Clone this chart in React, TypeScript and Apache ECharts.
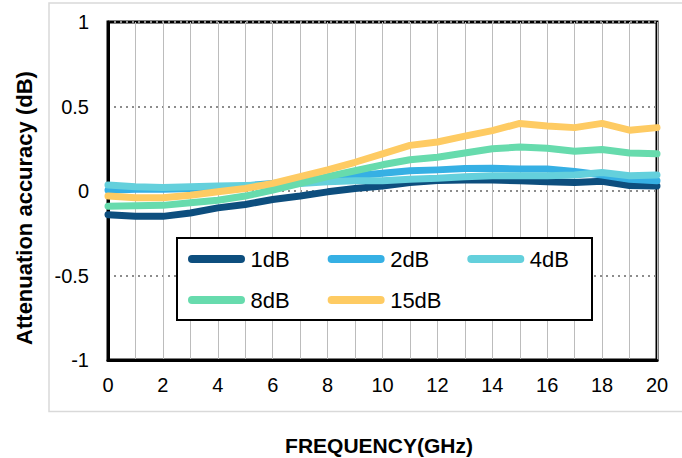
import React, { useEffect, useRef } from "react";
import * as echarts from "echarts";

const freqs = [0, 1, 2, 3, 4, 5, 6, 7, 8, 9, 10, 11, 12, 13, 14, 15, 16, 17, 18, 19, 20];
const seriesNames = ["1dB", "2dB", "4dB", "8dB", "15dB"];
const s1dB = [-0.14, -0.15, -0.15, -0.13, -0.1, -0.08, -0.05, -0.03, -0.005, 0.015, 0.03, 0.05, 0.062, 0.065, 0.065, 0.06, 0.055, 0.05, 0.058, 0.032, 0.03];
const s2dB = [0.005, 0.01, 0.01, 0.015, 0.02, 0.03, 0.045, 0.06, 0.075, 0.09, 0.105, 0.12, 0.125, 0.133, 0.135, 0.13, 0.13, 0.115, 0.095, 0.07, 0.06];
const s4dB = [0.035, 0.025, 0.02, 0.025, 0.03, 0.033, 0.036, 0.045, 0.055, 0.06, 0.06, 0.07, 0.075, 0.085, 0.09, 0.09, 0.09, 0.095, 0.11, 0.09, 0.095];
const s8dB = [-0.09, -0.088, -0.085, -0.07, -0.055, -0.03, 0.005, 0.045, 0.085, 0.12, 0.155, 0.185, 0.2, 0.225, 0.25, 0.26, 0.253, 0.235, 0.245, 0.225, 0.22];
const s15dB = [-0.03, -0.04, -0.04, -0.025, -0.005, 0.015, 0.045, 0.085, 0.125, 0.17, 0.22, 0.27, 0.29, 0.325, 0.357, 0.4, 0.385, 0.375, 0.4, 0.36, 0.375];
const seriesValues = [s1dB, s2dB, s4dB, s8dB, s15dB];
const colors = ["#0d4e7e", "#36b0e4", "#64d0dc", "#67dbad", "#fecb63"];
const yTicks = [-1, -0.5, 0, 0.5, 1];
const xTitle = "FREQUENCY(GHz)";
const yTitle = "Attenuation accuracy (dB)";

const FONT = "'Liberation Sans', Arial, sans-serif";
const capsule = "path://M4,0 H53 A4,4 0 0 1 53,8 H4 A4,4 0 0 1 4,0 Z";

export default function App() {
  const ref = useRef<HTMLDivElement>(null);
  useEffect(() => {
    document.body.style.margin = "0";
    document.body.style.overflow = "hidden";
    document.documentElement.style.overflow = "hidden";
    const chart = echarts.init(ref.current!, null, { renderer: "svg" });
    const legendBase = {
      orient: "horizontal",
      icon: capsule,
      itemWidth: 58,
      itemHeight: 8,
      itemGap: 38,
      padding: 0,
      textStyle: { fontFamily: FONT, fontSize: 22, fontWeight: "normal", color: "#000" },
      z: 6,
    };
    chart.setOption({
      animation: false,
      backgroundColor: "#fff",
      color: colors,
      textStyle: { fontFamily: FONT },
      grid: {
        left: 108,
        right: 25,
        top: 22,
        bottom: 98,
        containLabel: false,
        outerBoundsMode: "none",
        show: true,
        borderColor: "#000",
        borderWidth: 3,
        backgroundColor: "transparent",
      },
      graphic: [
        {
          type: "rect",
          shape: { x: 49, y: 3, width: 660, height: 408.5 },
          style: { fill: "none", stroke: "#d9d9d9", lineWidth: 1.5 },
          silent: true,
          z: 0,
        },
        {
          type: "rect",
          shape: { x: 177, y: 238, width: 415, height: 82 },
          style: { fill: "#fff", stroke: "#000", lineWidth: 2 },
          silent: true,
          z: 5,
        },
        {
          type: "text",
          x: 379,
          y: 445,
          silent: true,
          style: {
            text: xTitle,
            fontFamily: FONT,
            fontSize: 21,
            fontWeight: "bold",
            fill: "#000",
            align: "center",
            verticalAlign: "middle",
          },
        },
        {
          type: "text",
          x: 24,
          y: 208,
          rotation: Math.PI / 2,
          silent: true,
          style: {
            text: yTitle,
            fontFamily: FONT,
            fontSize: 22,
            fontWeight: "bold",
            fill: "#000",
            align: "center",
            verticalAlign: "middle",
          },
        },
      ],
      legend: [
        { ...legendBase, data: seriesNames.slice(0, 3), left: 188, top: 248 },
        { ...legendBase, data: seriesNames.slice(3), left: 188, top: 289 },
      ],
      xAxis: {
        type: "value",
        min: 0,
        max: 20,
        interval: 1,
        axisLine: { show: true, onZero: false, lineStyle: { color: "#000", width: 3 } },
        axisTick: { show: false },
        axisLabel: {
          fontFamily: FONT,
          fontSize: 20,
          color: "#000",
          margin: 15,
          formatter: (v: number) => (v % 2 === 0 ? String(v) : ""),
        },
        splitLine: { show: true, lineStyle: { color: "#bcbcbc", width: 1 } },
      },
      yAxis: {
        type: "value",
        min: -1,
        max: 1,
        interval: 0.5,
        axisLine: { show: true, onZero: false, lineStyle: { color: "#000", width: 3 } },
        axisTick: { show: false },
        axisLabel: {
          fontFamily: FONT,
          fontSize: 20,
          color: "#000",
          margin: 19,
          formatter: (v: number) => (yTicks.includes(v) ? String(v) : ""),
        },
        splitLine: { show: true, lineStyle: { color: "#8c8c8c", width: 2, type: [2, 4] } },
      },
      series: seriesNames.map((name, i) => ({
        name,
        type: "line",
        data: freqs.map((f, j) => [f, seriesValues[i][j]]),
        showSymbol: false,
        symbol: "none",
        lineStyle: { width: 7, color: colors[i], cap: "round", join: "round" },
        itemStyle: { color: colors[i] },
        z: 2 + i * 0.01,
      })),
    });
    return () => chart.dispose();
  }, []);
  return (
    <div
      ref={ref}
      style={{ position: "absolute", left: 0, top: 0, width: 682, height: 458 }}
    />
  );
}
